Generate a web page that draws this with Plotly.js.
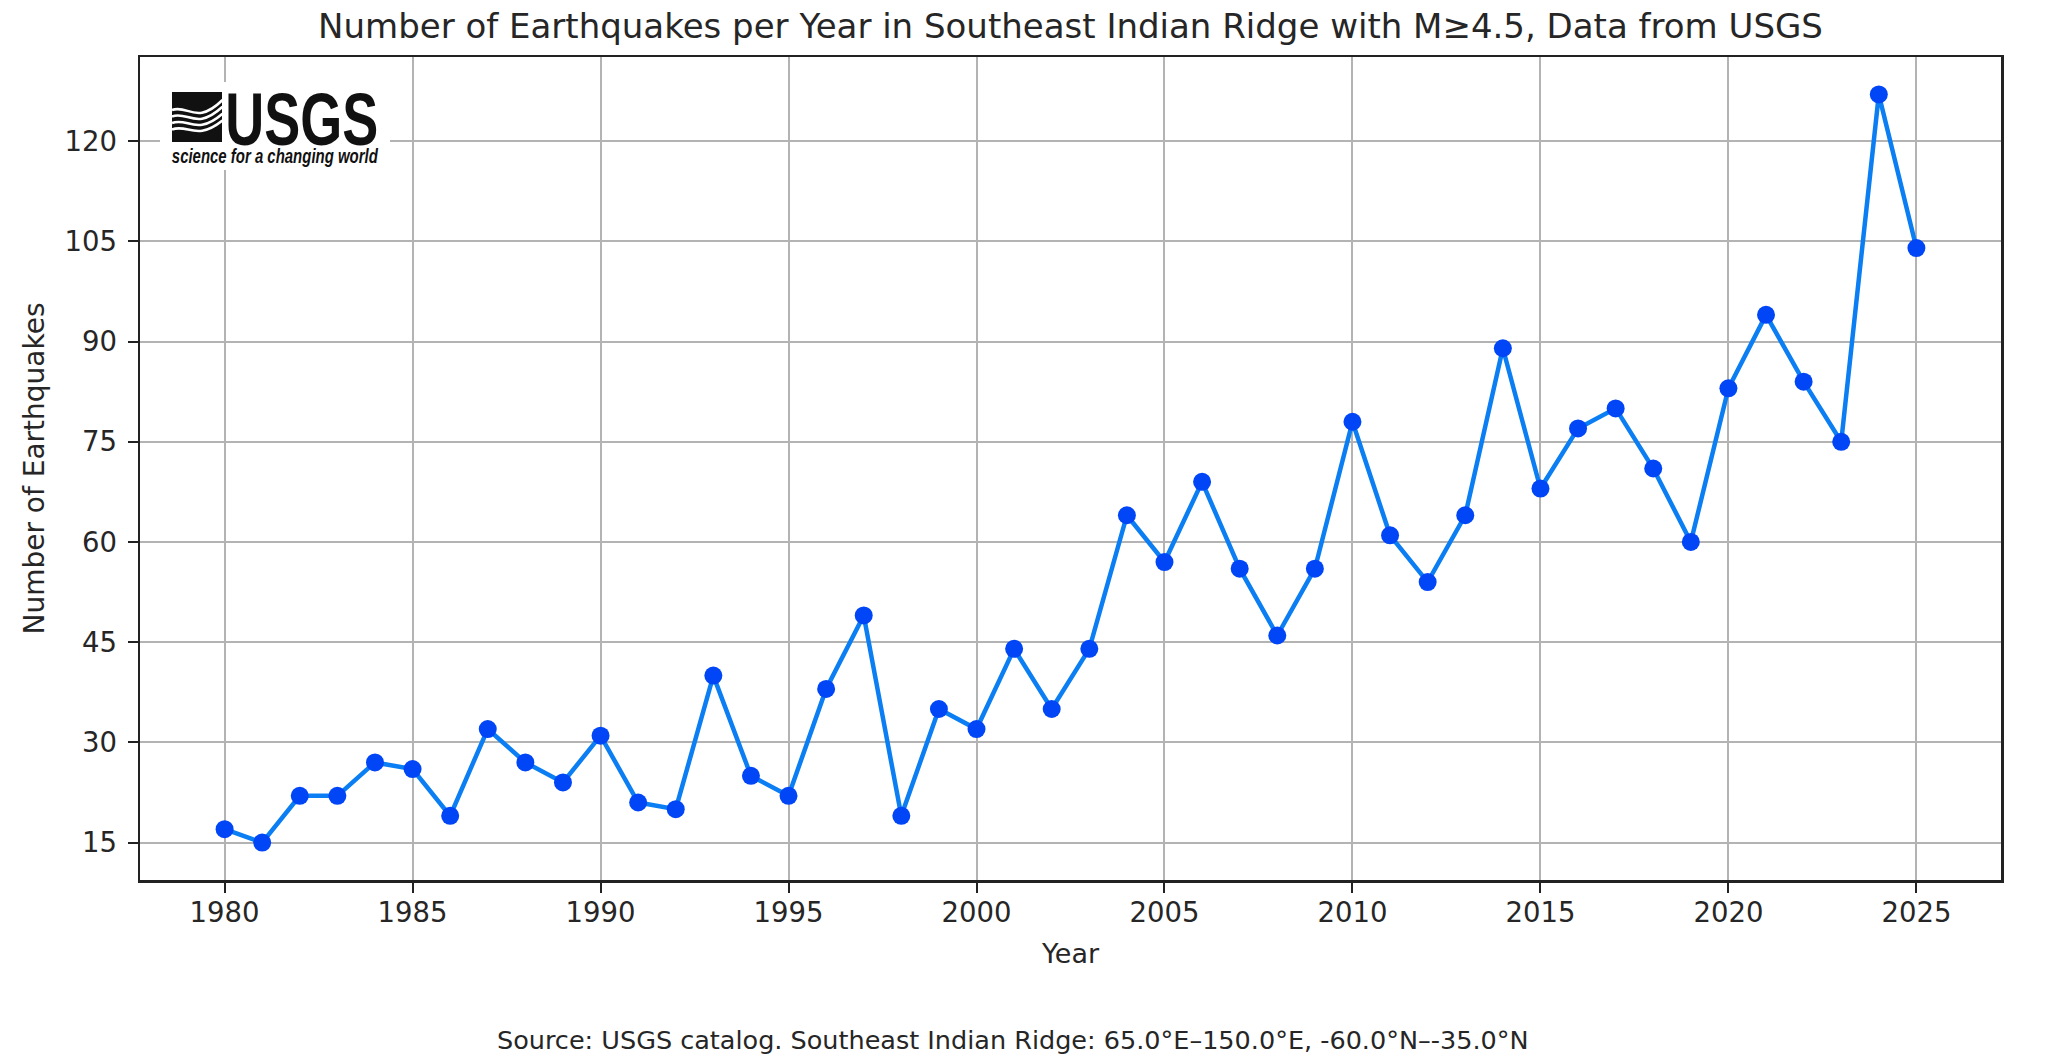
<!DOCTYPE html>
<html>
<head>
<meta charset="utf-8">
<script src="https://cdn.plot.ly/plotly-3.0.1.min.js"></script>
<style>
  html, body { margin: 0; padding: 0; background: #ffffff; }
  #chart { width: 2046px; height: 1064px; }
</style>
</head>
<body>
<div id="chart"></div>
<script>
// Yearly counts of M>=4.5 earthquakes, Southeast Indian Ridge (USGS catalog)
const years = [
  1980, 1981, 1982, 1983, 1984, 1985, 1986, 1987, 1988, 1989,
  1990, 1991, 1992, 1993, 1994, 1995, 1996, 1997, 1998, 1999,
  2000, 2001, 2002, 2003, 2004, 2005, 2006, 2007, 2008, 2009,
  2010, 2011, 2012, 2013, 2014, 2015, 2016, 2017, 2018, 2019,
  2020, 2021, 2022, 2023, 2024, 2025
];
const counts = [
  17, 15, 22, 22, 27, 26, 19, 32, 27, 24,
  31, 21, 20, 40, 25, 22, 38, 49, 19, 35,
  32, 44, 35, 44, 64, 57, 69, 56, 46, 56,
  78, 61, 54, 64, 89, 68, 77, 80, 71, 60,
  83, 94, 84, 75, 127, 104
];

const chartTitle = 'Number of Earthquakes per Year in Southeast Indian Ridge with M\u22654.5, Data from USGS';
const xLabel = 'Year';
const yLabel = 'Number of Earthquakes';
const sourceNote = 'Source: USGS catalog. Southeast Indian Ridge: 65.0\u00b0E\u2013150.0\u00b0E, -60.0\u00b0N\u2013-35.0\u00b0N';
const logoWord = 'USGS';
const logoTagline = 'science for a changing world';

// Figure geometry (pixels)
const W = 2046, H = 1064;
const M = { l: 140, r: 45, t: 57, b: 184 };
const plotW = W - M.l - M.r, plotH = H - M.t - M.b;
const px = x => (x - M.l) / plotW;          // pixel x -> paper x
const py = y => (H - M.b - y) / plotH;      // pixel y -> paper y

const FONT = 'DejaVu Sans, Verdana, sans-serif';
const TXT = '#262626';
const LOGO_FONT = 'Liberation Sans, Arial, Helvetica, sans-serif';

// Axis padding like the default 5% data margins
const xPad = (years[years.length - 1] - years[0]) * 0.05;
const yMin = Math.min(...counts), yMax = Math.max(...counts);
const yPad = (yMax - yMin) * 0.05;

const trace = {
  x: years,
  y: counts,
  type: 'scatter',
  mode: 'lines+markers',
  line: { color: '#0a7ef2', width: 4.5 },
  marker: { color: '#0046f7', size: 18, line: { width: 0 } },
  hoverinfo: 'x+y',
  showlegend: false
};

// Logo: white backing box, black wave mark with white wave strokes
function pathFrom(points) {
  // points: [['M', x, y], ['C', x1, y1, x2, y2, x, y], ...] in pixels
  return points.map(p => {
    const cmd = p[0];
    const nums = [];
    for (let i = 1; i < p.length; i += 2) nums.push(px(p[i]) + ',' + py(p[i + 1]));
    return cmd + nums.join(' ');
  }).join(' ');
}

const markX0 = 172, markX1 = 222, markY0 = 92, markY1 = 142;
const shapes = [
  { type: 'rect', xref: 'paper', yref: 'paper', layer: 'above',
    x0: px(160), x1: px(390), y0: py(170), y1: py(82),
    fillcolor: '#ffffff', line: { width: 0 } },
  { type: 'rect', xref: 'paper', yref: 'paper', layer: 'above',
    x0: px(markX0), x1: px(markX1), y0: py(markY1), y1: py(markY0),
    fillcolor: '#111111', line: { width: 0 } }
];
const waveOffsets = [0, 6.5, 13, 19.5];
waveOffsets.forEach(d => {
  shapes.push({
    type: 'path', xref: 'paper', yref: 'paper', layer: 'above',
    path: pathFrom([
      ['M', markX0, 110 + d],
      ['C', 188, 104 + d, 196, 126 + d * 0.8, markX1 + 0.5, 100 + d * 1.05]
    ]),
    line: { color: '#ffffff', width: 2.6 },
    fillcolor: 'rgba(0,0,0,0)'
  });
});

// Logo word and tagline are squeezed to a condensed width after drawing
const logoWordBox = { left: 225, width: 153 };
const logoTagBox = { left: 172, width: 206 };

const annotations = [
  { text: logoWord, xref: 'paper', yref: 'paper',
    x: px(logoWordBox.left + logoWordBox.width / 2), y: py(119),
    xanchor: 'center', yanchor: 'middle', showarrow: false,
    font: { family: LOGO_FONT, size: 74, weight: 'bold', color: '#111111' } },
  { text: logoTagline, xref: 'paper', yref: 'paper',
    x: px(logoTagBox.left + logoTagBox.width / 2), y: py(156),
    xanchor: 'center', yanchor: 'middle', showarrow: false,
    font: { family: LOGO_FONT, size: 20, weight: 'bold', style: 'italic', color: '#111111' } },
  { text: sourceNote, xref: 'paper', yref: 'paper',
    x: px(1013), y: py(1040), xanchor: 'center', yanchor: 'middle', showarrow: false,
    font: { family: FONT, size: 25.5, color: TXT } }
];

const axisCommon = {
  showline: true, mirror: true, linecolor: '#222222', linewidth: 2.5,
  ticks: 'outside', ticklen: 10, tickwidth: 2, tickcolor: '#222222',
  showgrid: true, gridcolor: '#b3b3b3', gridwidth: 2,
  zeroline: false,
  tickfont: { family: FONT, size: 27.5, color: TXT }
};

const layout = {
  width: W, height: H,
  margin: { l: M.l, r: M.r, t: M.t, b: M.b, pad: 0 },
  paper_bgcolor: '#ffffff', plot_bgcolor: '#ffffff',
  title: {
    text: chartTitle,
    font: { family: FONT, size: 34, color: TXT },
    xref: 'paper', x: 0.5, xanchor: 'center',
    yref: 'container', y: 1 - 26 / H, yanchor: 'middle'
  },
  xaxis: Object.assign({}, axisCommon, {
    range: [years[0] - xPad, years[years.length - 1] + xPad],
    tick0: 1980, dtick: 5,
    ticklabelstandoff: -4,
    title: { text: xLabel, font: { family: FONT, size: 27, color: TXT }, standoff: 18 }
  }),
  yaxis: Object.assign({}, axisCommon, {
    range: [yMin - yPad, yMax + yPad],
    tick0: 0, dtick: 15,
    ticklabelstandoff: 5,
    title: { text: yLabel, font: { family: FONT, size: 28, color: TXT }, standoff: 12 }
  }),
  shapes: shapes,
  annotations: annotations
};

Plotly.newPlot('chart', [trace], layout, { displayModeBar: false, staticPlot: true })
  .then(gd => {
    gd.querySelectorAll('text.annotation-text').forEach(t => {
      const s = t.textContent;
      let w = null;
      if (s === logoWord) w = logoWordBox.width;
      else if (s === logoTagline) w = logoTagBox.width;
      if (w !== null) {
        t.setAttribute('text-anchor', 'middle');
        t.setAttribute('textLength', String(w));
        t.setAttribute('lengthAdjust', 'spacingAndGlyphs');
      }
    });
  });
</script>
</body>
</html>
